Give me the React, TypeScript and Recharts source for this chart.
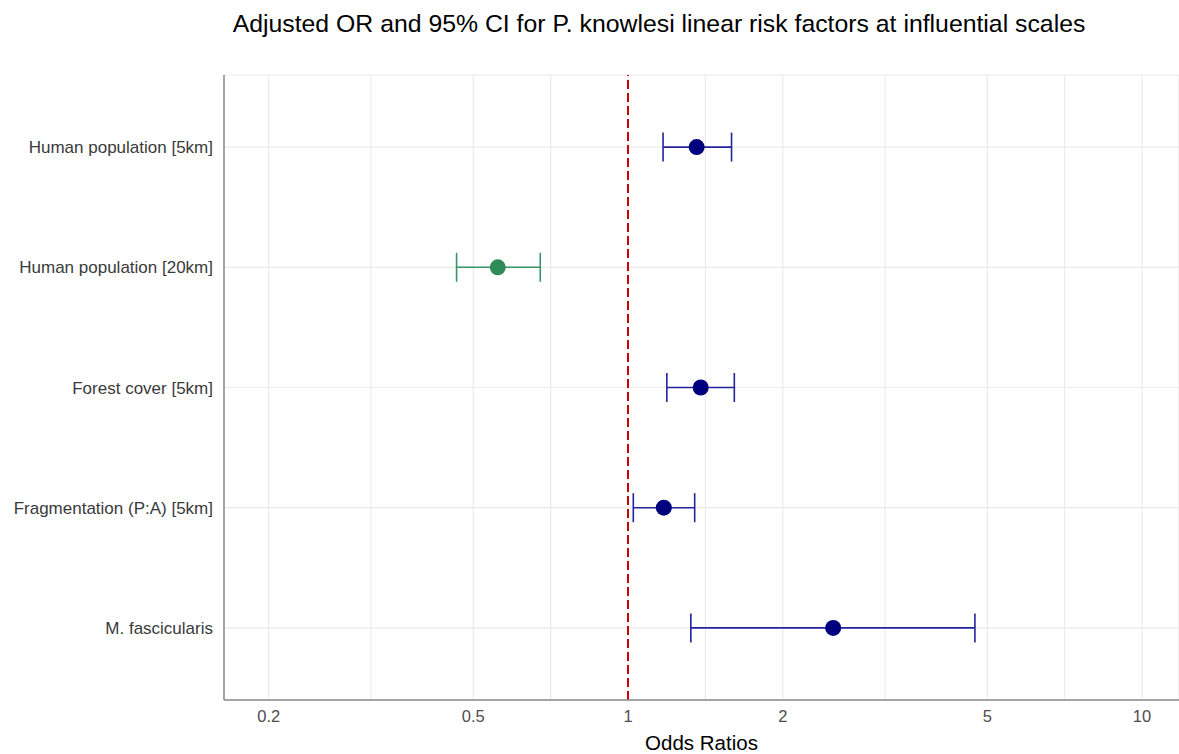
import React from 'react';
import {
  ScatterChart,
  Scatter,
  XAxis,
  YAxis,
  CartesianGrid,
  ReferenceLine,
  ErrorBar,
} from 'recharts';

const categories = [
  'Human population [5km]',
  'Human population [20km]',
  'Forest cover [5km]',
  'Fragmentation (P:A) [5km]',
  'M. fascicularis',
];
const oddsRatios = [1.36, 0.558, 1.385, 1.174, 2.507];
const ciLower = [1.17, 0.464, 1.19, 1.024, 1.325];
const ciUpper = [1.59, 0.675, 1.61, 1.348, 4.73];
const effectGroup = ['positive', 'negative', 'positive', 'positive', 'positive'];

const xTicks = [0.2, 0.5, 1, 2, 5, 10];
const xMinorBreaks = [0.3162, 0.7071, 1.4142, 3.1623, 7.0711];
const yTicks = [1, 2, 3, 4, 5];

const COLORS: Record<string, { point: string; bar: string }> = {
  positive: { point: '#00007f', bar: '#23239c' },
  negative: { point: '#2e8b57', bar: '#3a9466' },
};

const rows = categories.map((name, i) => ({
  name,
  y: categories.length - i,
  or: oddsRatios[i],
  err: [oddsRatios[i] - ciLower[i], ciUpper[i] - oddsRatios[i]],
  group: effectGroup[i],
}));

const positiveRows = rows.filter((r) => r.group === 'positive');
const negativeRows = rows.filter((r) => r.group === 'negative');

const FONT = '"Liberation Sans", Arial, Helvetica, sans-serif';

const makeDot = (color: string) => (props: any) =>
  <circle cx={props.cx} cy={props.cy} r={8} fill={color} />;

export default function App() {
  return (
    <div
      style={{
        position: 'absolute',
        left: 0,
        top: 0,
        width: 1179,
        height: 754,
        background: '#ffffff',
        fontFamily: FONT,
        overflow: 'hidden',
      }}
    >
      <div
        style={{
          position: 'absolute',
          left: 0,
          width: 1318,
          top: 9,
          textAlign: 'center',
          fontSize: 24.8,
          lineHeight: '30px',
          color: '#000',
          whiteSpace: 'nowrap',
        }}
      >
        Adjusted OR and 95% CI for P. knowlesi linear risk factors at influential scales
      </div>
      <ScatterChart
        width={1179}
        height={754}
        margin={{ top: 75, right: 0, bottom: 0, left: 0 }}
        style={{ position: 'absolute', left: 0, top: 0 }}
      >
        <CartesianGrid stroke="#ebebeb" strokeWidth={1.2} />
        {xMinorBreaks.map((v) => (
          <ReferenceLine key={v} x={v} stroke="#ebebeb" strokeWidth={1.2} ifOverflow="hidden" />
        ))}
        <XAxis
          type="number"
          dataKey="or"
          scale="log"
          domain={[0.1637, 11.8]}
          allowDataOverflow
          ticks={xTicks}
          tickFormatter={(v: number) => String(v)}
          height={54}
          tickSize={0}
          tickMargin={10}
          tick={{ fill: '#4d4d4d', fontSize: 16.5, fontFamily: FONT }}
          axisLine={{ stroke: '#8a8a8a', strokeWidth: 1.5 }}
          tickLine={false}
          label={{
            value: 'Odds Ratios',
            position: 'insideBottom',
            offset: 4,
            fill: '#000',
            fontSize: 20.5,
            fontFamily: FONT,
          }}
        />
        <YAxis
          type="number"
          dataKey="y"
          domain={[0.4, 5.6]}
          ticks={yTicks}
          tickFormatter={(v: number) => categories[categories.length - v]}
          width={224}
          tickSize={0}
          tickMargin={11}
          tick={{ fill: '#3a3a3a', fontSize: 17, fontFamily: FONT }}
          axisLine={{ stroke: '#8a8a8a', strokeWidth: 1.5 }}
          tickLine={false}
        />
        <ReferenceLine x={1} stroke="#cc0000" strokeWidth={2} strokeDasharray="9 4" />
        <Scatter
          data={positiveRows}
          isAnimationActive={false}
          shape={makeDot(COLORS.positive.point)}
        >
          <ErrorBar
            dataKey="err"
            direction="x"
            width={14.5}
            stroke={COLORS.positive.bar}
            strokeWidth={1.6}
            isAnimationActive={false}
          />
        </Scatter>
        <Scatter
          data={negativeRows}
          isAnimationActive={false}
          shape={makeDot(COLORS.negative.point)}
        >
          <ErrorBar
            dataKey="err"
            direction="x"
            width={14.5}
            stroke={COLORS.negative.bar}
            strokeWidth={1.6}
            isAnimationActive={false}
          />
        </Scatter>
      </ScatterChart>
    </div>
  );
}
